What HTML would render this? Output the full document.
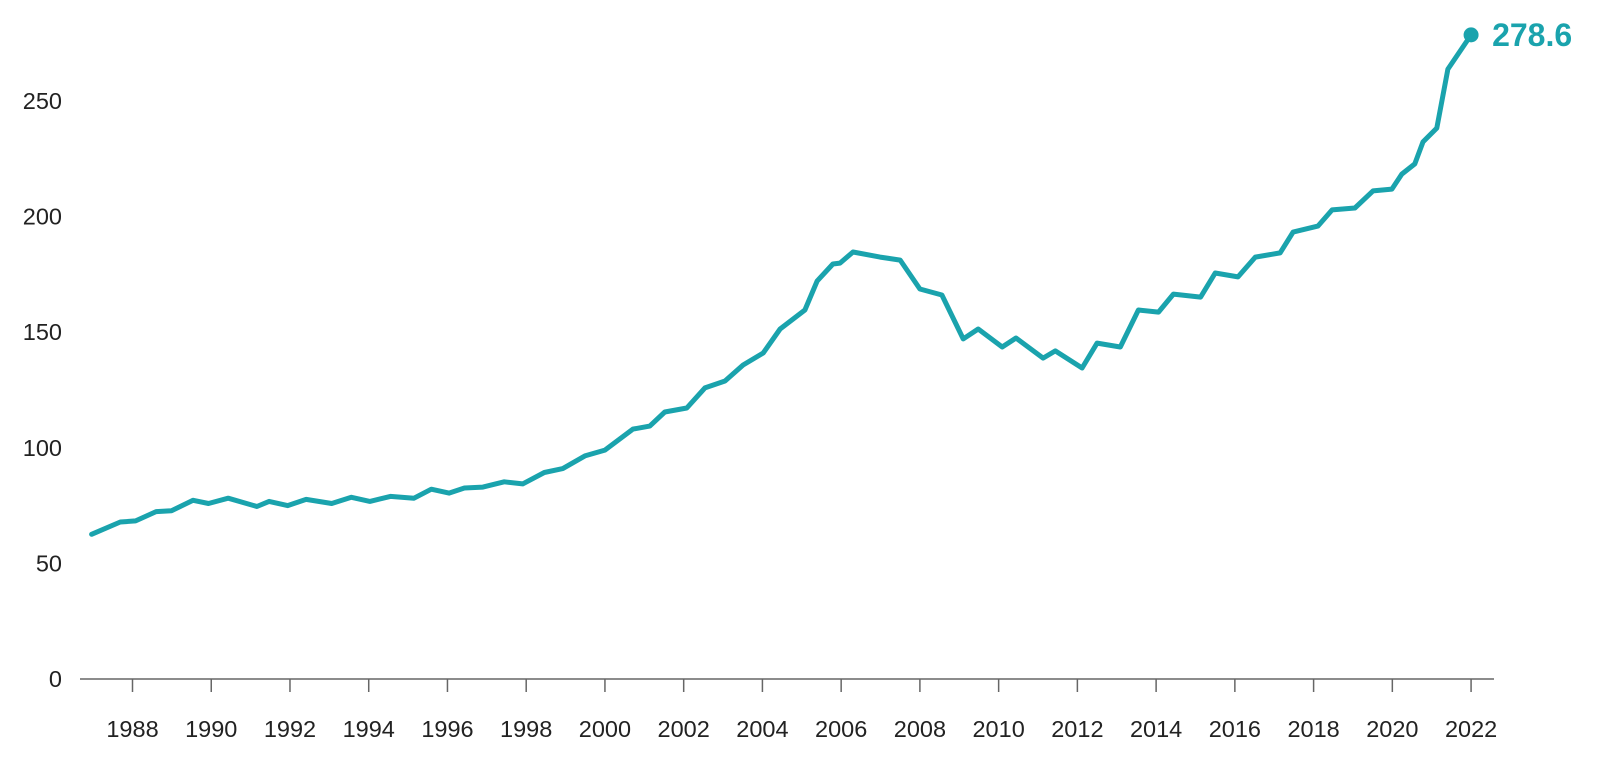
<!DOCTYPE html>
<html><head><meta charset="utf-8"><style>
html,body{margin:0;padding:0;background:#fff;}
svg{display:block;font-family:"Liberation Sans",sans-serif;}
</style></head><body>
<svg id="chart" width="1609" height="762" viewBox="0 0 1609 762">
<g id="yaxis"></g>
<g id="xaxis"></g>
<g id="series"></g>
</svg>
<script>
const years=[1986.96,1987.69,1988.08,1988.6,1988.99,1989.54,1989.93,1990.43,1991.16,1991.47,1991.94,1992.41,1993.06,1993.56,1994.03,1994.55,1995.15,1995.59,1996.04,1996.43,1996.9,1997.44,1997.91,1998.46,1998.93,1999.49,2000.0,2000.71,2001.14,2001.52,2002.08,2002.54,2003.05,2003.51,2004.02,2004.45,2005.08,2005.39,2005.79,2005.97,2006.3,2006.99,2007.5,2008.0,2008.56,2009.1,2009.48,2010.09,2010.44,2011.13,2011.44,2012.12,2012.5,2013.09,2013.55,2014.06,2014.44,2015.13,2015.5,2016.08,2016.52,2017.15,2017.48,2018.11,2018.47,2019.05,2019.51,2019.99,2020.24,2020.57,2020.78,2021.13,2021.41,2022.0];
const values=[62.6,67.9,68.4,72.4,72.8,77.3,75.9,78.2,74.6,76.8,75.0,77.7,75.9,78.6,76.8,79.0,78.2,82.1,80.4,82.6,83.0,85.3,84.4,89.3,91.0,96.5,99.0,108.1,109.4,115.5,117.2,125.9,128.9,135.8,141.0,151.4,159.6,172.1,179.5,179.9,184.7,182.5,181.2,168.7,166.1,147.1,151.4,143.6,147.5,138.8,141.9,134.5,145.3,143.6,159.6,158.7,166.5,165.2,175.6,173.9,182.5,184.3,193.3,195.9,202.9,203.7,211.1,211.9,218.4,222.8,232.3,238.3,263.8,278.6];
const yTicks=[0,50,100,150,200,250];
const xTicks=[1988,1990,1992,1994,1996,1998,2000,2002,2004,2006,2008,2010,2012,2014,2016,2018,2020,2022];
const lastLabel="278.6";

const NS="http://www.w3.org/2000/svg";
const X=y=>132.5+(y-1988)*39.37;
const Y=v=>679-v*2.312;
function mk(tag,attrs,parent){const e=document.createElementNS(NS,tag);for(const k in attrs)e.setAttribute(k,attrs[k]);parent.appendChild(e);return e;}
const ya=document.getElementById('yaxis'),xa=document.getElementById('xaxis'),sg=document.getElementById('series');
yTicks.forEach(t=>{
  const e=mk('text',{x:62,y:Y(t)+8,'text-anchor':'end','font-size':23.5,fill:'#222'},ya);
  
  
  e.textContent=t;
});
const al=mk('line',{x1:80,y1:679,x2:1494,y2:679,stroke:'#666','stroke-width':1.5},xa);


xTicks.forEach(t=>{
  const l=mk('line',{x1:X(t),y1:679,x2:X(t),y2:692,stroke:'#666','stroke-width':1.5},xa);
  
  
  const e=mk('text',{x:X(t),y:737,'text-anchor':'middle','font-size':23.5,fill:'#222'},xa);
  
  
  e.textContent=t;
});
const d=years.map((y,i)=>(i?'L':'M')+X(y).toFixed(1)+','+Y(values[i]).toFixed(1)).join(' ');
const p=mk('path',{d:d,fill:'none',stroke:'#1aa3ad','stroke-width':5,'stroke-linejoin':'round','stroke-linecap':'round'},sg);


const n=years.length-1;
const c=mk('circle',{cx:X(years[n]),cy:Y(values[n]),r:7.5,fill:'#1aa3ad'},sg);


const lt=mk('text',{x:X(years[n])+21,y:Y(values[n])+11,'font-size':32,'font-weight':'bold',fill:'#1aa3ad'},sg);


lt.textContent=lastLabel;
</script>
</body></html>
